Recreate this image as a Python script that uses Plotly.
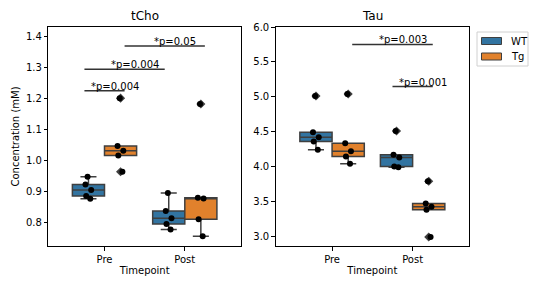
import plotly.graph_objects as go

TIMEPOINTS = ["Pre", "Post"]
GROUPS = ["WT", "Tg"]
COLORS = {"WT": "#3274A1", "Tg": "#E1812C"}

# tCho (mM)
TCHO_PRE_WT = [0.947, 0.922, 0.904, 0.885, 0.876]
TCHO_PRE_TG = [1.200, 1.046, 1.031, 1.015, 0.963]
TCHO_POST_WT = [0.895, 0.837, 0.813, 0.795, 0.777]
TCHO_POST_TG = [1.181, 0.879, 0.877, 0.810, 0.755]

# Tau (mM)
TAU_PRE_WT = [5.01, 4.49, 4.42, 4.36, 4.24]
TAU_PRE_TG = [5.04, 4.335, 4.22, 4.143, 4.04]
TAU_POST_WT = [4.51, 4.17, 4.13, 4.00, 3.99]
TAU_POST_TG = [3.79, 3.47, 3.425, 3.38, 2.99]

PANELS = [
    ("tCho", {("Pre", "WT"): TCHO_PRE_WT, ("Pre", "Tg"): TCHO_PRE_TG,
              ("Post", "WT"): TCHO_POST_WT, ("Post", "Tg"): TCHO_POST_TG}),
    ("Tau", {("Pre", "WT"): TAU_PRE_WT, ("Pre", "Tg"): TAU_PRE_TG,
             ("Post", "WT"): TAU_POST_WT, ("Post", "Tg"): TAU_POST_TG}),
]

# significance comparisons: ((time, group), (time, group), level, label)
SIG_TCHO = [(("Pre", "WT"), ("Pre", "Tg"), 1.2235, "*p=0.004"),
            (("Pre", "WT"), ("Post", "WT"), 1.293, "*p=0.004"),
            (("Pre", "Tg"), ("Post", "Tg"), 1.368, "*p=0.05")]
SIG_TAU = [(("Pre", "Tg"), ("Post", "Tg"), 5.75, "*p=0.003"),
           (("Post", "WT"), ("Post", "Tg"), 5.147, "*p=0.001")]
SIGS = [SIG_TCHO, SIG_TAU]

Y_RANGES = [[0.724, 1.429], [2.861, 6.0]]
Y_TICKS = [[0.8, 0.9, 1.0, 1.1, 1.2, 1.3, 1.4], [3.0, 3.5, 4.0, 4.5, 5.0, 5.5, 6.0]]

GRAY = "#3f3f3f"
FONT = "DejaVu Sans"
# page is rendered with an 8px body margin; lay out in page pixels minus that offset
OFF = 8
W, H = 540 - OFF, 288 - OFF


def fx(px):
    return (px - OFF) / W


def fy(py):
    return 1 - (py - OFF) / H


X_DOMAINS = [[fx(48.3), fx(241)], [fx(275.7), fx(469)]]
Y_DOMAIN = [fy(246), fy(27)]
HUE_OFF = {"WT": -0.2, "Tg": 0.2}
SIG_OFF = 0.25
BOX_W = 0.4


def pos(key):
    t, g = key
    return TIMEPOINTS.index(t) + HUE_OFF[g]


def lpos(key):
    t, g = key
    return TIMEPOINTS.index(t) + (-SIG_OFF if g == "WT" else SIG_OFF)


fig = go.Figure()
annotations = []
shapes = []

for i, (title, data) in enumerate(PANELS):
    xa = "x" if i == 0 else "x2"
    ya = "y" if i == 0 else "y2"
    for t in TIMEPOINTS:
        for g in GROUPS:
            vals = data[(t, g)]
            p = pos((t, g))
            fig.add_trace(go.Box(
                x=[p] * len(vals), y=vals, xaxis=xa, yaxis=ya,
                width=BOX_W, quartilemethod="inclusive",
                fillcolor=COLORS[g], line=dict(color=GRAY, width=1.5),
                whiskerwidth=0.5,
                boxpoints="outliers",
                marker=dict(symbol="diamond", color=GRAY, size=7),
                name=g, showlegend=False, hoverinfo="skip",
            ))
            fig.add_trace(go.Box(
                x=[p] * len(vals), y=vals, xaxis=xa, yaxis=ya,
                width=BOX_W, quartilemethod="inclusive",
                fillcolor="rgba(0,0,0,0)", line=dict(color="rgba(0,0,0,0)", width=0),
                boxpoints="all", jitter=0.22, pointpos=0,
                marker=dict(symbol="circle", color="black", size=6),
                showlegend=False, hoverinfo="skip",
            ))
    for a, b, lvl, lab in SIGS[i]:
        x0, x1 = lpos(a), lpos(b)
        shapes.append(dict(type="line", xref=xa, yref=ya, x0=x0, x1=x1, y0=lvl, y1=lvl,
                           line=dict(color="#333333", width=1.5)))
        annotations.append(dict(xref=xa, yref=ya, x=(x0 + x1) / 2 + 0.13, y=lvl,
                                text=lab, showarrow=False, yanchor="bottom", yshift=-3,
                                font=dict(family=FONT, size=10, color="black")))
    annotations.append(dict(xref=xa + " domain", yref="paper",
                            x=0.5, y=Y_DOMAIN[1], yshift=2, yanchor="bottom",
                            text=title, showarrow=False,
                            font=dict(family=FONT, size=12, color="black")))

# legend (drawn as a matplotlib-style frame with colour patches)
shapes.append(dict(type="rect", xref="paper", yref="paper",
                   x0=fx(477), x1=fx(528), y0=fy(66), y1=fy(32),
                   line=dict(color="#d0d0d0", width=1), fillcolor="white", layer="above"))
for k, g in enumerate(GROUPS):
    cy = 41 + 15.5 * k
    shapes.append(dict(type="rect", xref="paper", yref="paper",
                       x0=fx(481.5), x1=fx(501.5), y0=fy(cy + 3.5), y1=fy(cy - 3.5),
                       line=dict(color=GRAY, width=1), fillcolor=COLORS[g], layer="above"))
    annotations.append(dict(xref="paper", yref="paper", x=fx(509), y=fy(cy),
                            xanchor="left", yanchor="middle", text=g, showarrow=False,
                            font=dict(family=FONT, size=10, color="black")))

axis_common = dict(showgrid=False, zeroline=False, showline=True, mirror=True,
                   linecolor="black", linewidth=1, ticks="outside", ticklen=3.5,
                   tickcolor="black", automargin=False,
                   tickfont=dict(family=FONT, size=10, color="black"))

fig.update_layout(
    width=W, height=H, margin=dict(l=0, r=0, t=0, b=0, autoexpand=False),
    plot_bgcolor="white", paper_bgcolor="white",
    font=dict(family=FONT, size=10, color="black"),
    xaxis=dict(domain=X_DOMAINS[0], range=[-0.7, 1.7], tickvals=[0, 1], ticktext=TIMEPOINTS,
               title=dict(text="Timepoint", standoff=3, font=dict(family=FONT, size=10)),
               anchor="y", **axis_common),
    yaxis=dict(domain=Y_DOMAIN, range=Y_RANGES[0], tickvals=Y_TICKS[0],
               tickformat=".1f", anchor="x",
               title=dict(text="Concentration (mM)", standoff=4, font=dict(family=FONT, size=10)),
               **axis_common),
    xaxis2=dict(domain=X_DOMAINS[1], range=[-0.7, 1.7], tickvals=[0, 1], ticktext=TIMEPOINTS,
                title=dict(text="Timepoint", standoff=3, font=dict(family=FONT, size=10)),
                anchor="y2", **axis_common),
    yaxis2=dict(domain=Y_DOMAIN, range=Y_RANGES[1], tickvals=Y_TICKS[1],
                tickformat=".1f", anchor="x2", **axis_common),
    shapes=shapes, annotations=annotations,
    showlegend=False,
)

fig.write_html("out.html")
